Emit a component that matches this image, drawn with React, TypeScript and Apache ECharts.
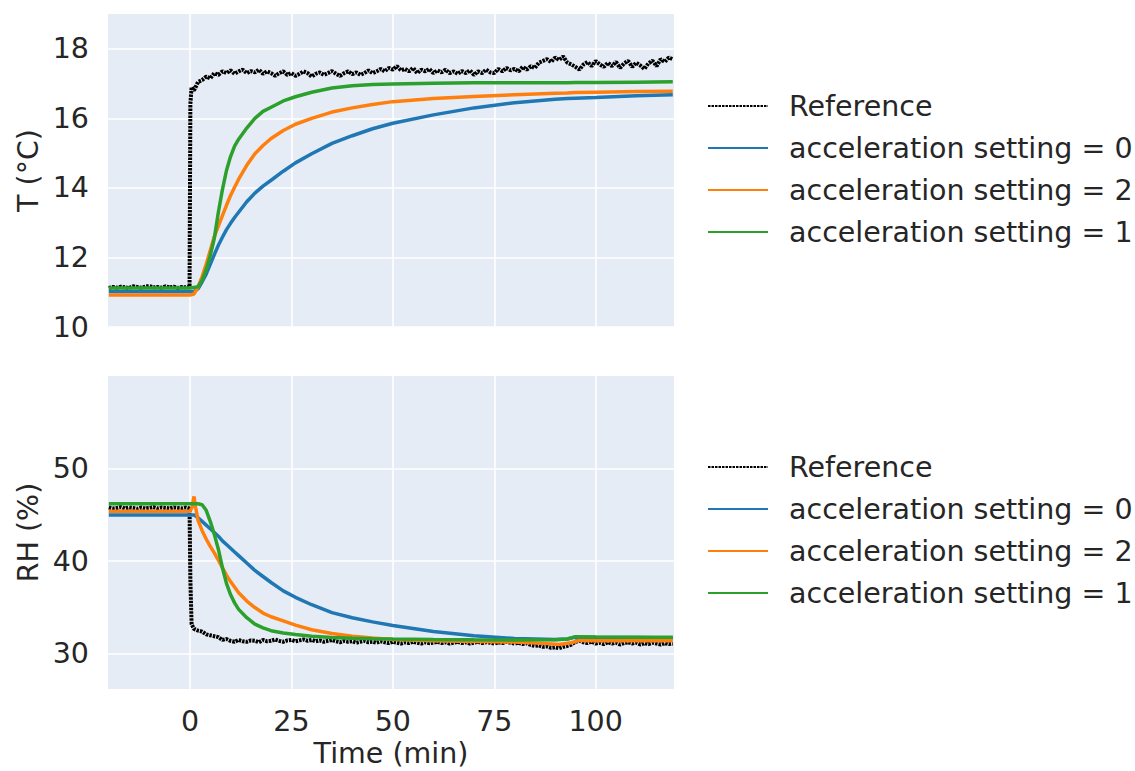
import React, { useEffect, useRef } from "react";
import * as echarts from "echarts";

// ---------- data ----------
const X_TICKS = [0, 25, 50, 75, 100];
const T_TICKS = [10, 12, 14, 16, 18];
const RH_TICKS = [30, 40, 50];

const SERIES_NAMES = [
  "Reference",
  "acceleration setting = 0",
  "acceleration setting = 2",
  "acceleration setting = 1",
];

// time (min) of the reference measurement
const tRef = [
  -20, -19, -18, -17, -16, -15, -14, -13, -12, -11,
  -10, -9, -8, -7, -6, -5, -4, -3, -2, -1,
  -0.1, 0.1, 0.4,
  1, 2, 3, 4, 5, 6, 7, 8, 9, 10,
  11, 12, 13, 14, 15, 16, 17, 18, 19, 20,
  21, 22, 23, 24, 25, 26, 27, 28, 29, 30,
  31, 32, 33, 34, 35, 36, 37, 38, 39, 40,
  41, 42, 43, 44, 45, 46, 47, 48, 49, 50,
  51, 52, 53, 54, 55, 56, 57, 58, 59, 60,
  61, 62, 63, 64, 65, 66, 67, 68, 69, 70,
  71, 72, 73, 74, 75, 76, 77, 78, 79, 80,
  81, 82, 83, 84, 85, 86, 87, 88, 89, 90,
  91, 92, 93, 94, 95, 96, 97, 98, 99, 100,
  101, 102, 103, 104, 105, 106, 107, 108, 109, 110,
  111, 112, 113, 114, 115, 116, 117, 118, 119,
];

const refT = [
  11.12, 11.15, 11.13, 11.16, 11.14, 11.12, 11.17, 11.15, 11.13, 11.16,
  11.18, 11.14, 11.15, 11.13, 11.17, 11.14, 11.16, 11.12, 11.15, 11.14,
  11.15, 16.4, 16.9,
  16.8, 17.05, 17.1, 17.2, 17.15, 17.3, 17.25, 17.35, 17.3, 17.38,
  17.28, 17.35, 17.4, 17.3, 17.36, 17.32, 17.4, 17.28, 17.35, 17.3,
  17.22, 17.3, 17.35, 17.25, 17.3, 17.22, 17.28, 17.35, 17.3, 17.2,
  17.28, 17.32, 17.25, 17.3, 17.36, 17.28, 17.22, 17.3, 17.35, 17.27,
  17.32, 17.25, 17.3, 17.38, 17.3, 17.35, 17.42, 17.35, 17.45, 17.4,
  17.5, 17.38, 17.42, 17.35, 17.45, 17.3, 17.4, 17.35, 17.42, 17.3,
  17.38, 17.32, 17.4, 17.3, 17.35, 17.28, 17.36, 17.3, 17.38, 17.25,
  17.35, 17.3, 17.4, 17.32, 17.3, 17.42, 17.35, 17.45, 17.38, 17.42,
  17.35, 17.48, 17.4, 17.5, 17.45, 17.6, 17.65, 17.7, 17.62, 17.75,
  17.68, 17.78, 17.6, 17.55, 17.48, 17.4, 17.55, 17.62, 17.5, 17.65,
  17.55, 17.48, 17.6, 17.5, 17.62, 17.45, 17.58, 17.65, 17.48, 17.6,
  17.52, 17.42, 17.58, 17.66, 17.5, 17.7, 17.62, 17.75, 17.7,
];

const refRH = [
  45.8, 45.7, 45.75, 45.85, 45.7, 45.8, 45.75, 45.65, 45.8, 45.7,
  45.75, 45.85, 45.7, 45.8, 45.75, 45.7, 45.8, 45.75, 45.7, 45.8,
  45.7, 38.0, 33.2,
  32.7, 32.5, 32.4, 32.1, 32.0, 31.9, 31.8, 31.5, 31.6, 31.4,
  31.3, 31.5, 31.35, 31.3, 31.45, 31.4, 31.25, 31.5, 31.35, 31.4,
  31.55, 31.4, 31.3, 31.45, 31.5, 31.35, 31.45, 31.55, 31.4, 31.5,
  31.35, 31.45, 31.3, 31.4, 31.5, 31.35, 31.25, 31.4, 31.3, 31.35,
  31.2, 31.3, 31.4, 31.25, 31.3, 31.2, 31.35, 31.25, 31.15, 31.3,
  31.2, 31.1, 31.25, 31.15, 31.3, 31.2, 31.1, 31.25, 31.15, 31.2,
  31.3, 31.15, 31.25, 31.1, 31.2, 31.3, 31.15, 31.25, 31.1, 31.2,
  31.3, 31.15, 31.25, 31.2, 31.1, 31.25, 31.15, 31.3, 31.2, 31.1,
  31.2, 31.05, 31.15, 30.95, 30.85, 30.9, 30.75, 30.8, 30.65, 30.7,
  30.6, 30.75, 30.85, 31.0, 31.3, 31.4, 31.25, 31.15, 31.3, 31.1,
  31.2, 31.05, 31.25, 31.1, 31.2, 31.0, 31.15, 31.25, 31.1, 31.2,
  31.0, 31.15, 31.05, 31.2, 31.1, 31.0, 31.15, 31.05, 31.1,
];

// time (min) of the simulated curves
const tSim = [
  -20, -10, 0, 1, 2, 3, 4, 5, 6, 7, 8, 9, 10, 11, 12, 14, 16, 18, 20, 23,
  26, 30, 35, 40, 45, 50, 60, 70, 80, 90, 93, 95, 100, 110, 119,
];

const accel0T = [
  11.02, 11.02, 11.02, 11.03, 11.1, 11.3, 11.52, 11.8, 12.08, 12.35,
  12.58, 12.8, 12.98, 13.15, 13.3, 13.6, 13.85, 14.05, 14.22, 14.48,
  14.72, 14.98, 15.28, 15.5, 15.7, 15.86, 16.1, 16.3, 16.45, 16.55,
  16.57, 16.58, 16.6, 16.65, 16.68,
];
const accel2T = [
  10.92, 10.92, 10.92, 10.95, 11.15, 11.45, 11.8, 12.2, 12.6, 12.9,
  13.2, 13.5, 13.78, 14.02, 14.25, 14.65, 14.98, 15.22, 15.42, 15.65,
  15.83, 16.0, 16.18, 16.3, 16.4, 16.48, 16.57, 16.63, 16.68, 16.72,
  16.73, 16.74, 16.75, 16.77, 16.78,
];
const accel1T = [
  11.12, 11.12, 11.12, 11.14, 11.16, 11.35, 11.65, 12.05, 12.55, 13.3,
  13.95, 14.5, 14.9, 15.2, 15.4, 15.72, 16.0, 16.2, 16.32, 16.5,
  16.62, 16.75, 16.87, 16.94, 16.97, 16.99, 17.01, 17.02, 17.02, 17.02,
  17.02, 17.03, 17.03, 17.04, 17.05,
];

const accel0RH = [
  45.0, 45.0, 45.0, 45.0, 44.7, 44.3, 43.9, 43.5, 43.1, 42.7,
  42.2, 41.8, 41.4, 41.0, 40.6, 39.8, 39.0, 38.35, 37.7, 36.8,
  36.1, 35.3, 34.45, 33.9, 33.45, 33.05, 32.4, 31.95, 31.65, 31.55,
  31.6, 31.8, 31.78, 31.75, 31.72,
];
const accel1RH = [
  46.2, 46.2, 46.2, 46.2, 46.2, 46.1, 45.5, 44.3, 42.9, 41.3,
  39.3, 37.6, 36.4, 35.5, 34.8, 33.9, 33.2, 32.8, 32.5, 32.25,
  32.08, 31.9, 31.75, 31.68, 31.63, 31.6, 31.55, 31.52, 31.5, 31.52,
  31.6, 31.85, 31.82, 31.8, 31.78,
];
const tAccel2RH = [
  -20, -10, 0, 0.5, 1, 1.4, 2, 3, 4, 5, 6, 7, 8, 9, 10, 12, 14, 16, 18, 20,
  23, 26, 30, 35, 40, 45, 50, 60, 70, 80, 88, 91, 94, 96, 100, 110, 119,
];
const accel2RH = [
  45.4, 45.4, 45.4, 45.8, 47.0, 45.8, 44.4, 43.3, 42.4, 41.6,
  40.9, 40.1, 39.3, 38.5, 37.8, 36.6, 35.7, 35.0, 34.4, 34.0,
  33.55, 33.1, 32.6, 32.2, 31.9, 31.7, 31.55, 31.4, 31.32, 31.28,
  31.1, 31.0, 31.2, 31.45, 31.42, 31.4, 31.4,
];

const COLORS = ["#000000", "#1f77b4", "#ff7f0e", "#2ca02c"];

const zip = (t: number[], v: number[]) => t.map((x, i) => [x, v[i]]);

export default function App() {
  const ref = useRef<HTMLDivElement>(null);

  useEffect(() => {
    if (!ref.current) return;
    const chart = echarts.init(ref.current, null, { renderer: "svg" });
    const fontFamily = "DejaVu Sans";
    const textColor = "#262626";
    const fontSize = 28.5;
    const gridBg = "#e6ecf5";

    const xAxis = (gridIndex: number, showLabel: boolean) => ({
      type: "value",
      gridIndex,
      min: -20.2,
      max: 119.3,
      axisLine: { show: false },
      axisTick: { show: false, customValues: X_TICKS },
      axisLabel: {
        show: showLabel,
        customValues: X_TICKS,
        fontFamily,
        fontSize,
        color: textColor,
        margin: 18,
      },
      splitLine: { show: true, lineStyle: { color: "#ffffff", width: 1.6 } },
      name: showLabel ? "Time (min)" : "",
      nameLocation: "middle",
      nameGap: 50,
      nameTextStyle: { fontFamily, fontSize, color: textColor },
    });

    const yAxis = (
      gridIndex: number,
      min: number,
      max: number,
      ticks: number[],
      name: string
    ) => ({
      type: "value",
      gridIndex,
      min,
      max,
      axisLine: { show: false },
      axisTick: { show: false, customValues: ticks },
      axisLabel: {
        customValues: ticks,
        fontFamily,
        fontSize,
        color: textColor,
        margin: 19,
      },
      splitLine: { show: true, lineStyle: { color: "#ffffff", width: 1.6 } },
      name,
      nameLocation: "middle",
      nameGap: 65,
      nameTextStyle: { fontFamily, fontSize, color: textColor },
    });

    const line = (
      idx: number,
      axis: number,
      data: number[][],
      isRef: boolean
    ) => ({
      type: "line",
      name: SERIES_NAMES[idx],
      xAxisIndex: axis,
      yAxisIndex: axis,
      data,
      showSymbol: false,
      symbol: "none",
      color: COLORS[idx],
      lineStyle: isRef
        ? { color: COLORS[idx], width: 4, type: [2.5, 1] }
        : { color: COLORS[idx], width: 3.5 },
      emphasis: { disabled: true },
      z: 2 + idx,
    });

    const legend = (top: number) => ({
      top,
      left: 707,
      padding: 0,
      orient: "vertical",
      itemWidth: 60,
      itemHeight: 14,
      itemGap: 12,
      selectedMode: false,
      itemStyle: { opacity: 0 },
      data: SERIES_NAMES,
      textStyle: {
        fontFamily,
        fontSize,
        color: textColor,
        lineHeight: 30,
        padding: [0, 0, 0, 16],
      },
    });

    const grid = (top: number) => ({
      left: 108,
      top,
      width: 566,
      height: 313,
      show: true,
      backgroundColor: gridBg,
      borderWidth: 0,
      containLabel: false,
      outerBoundsMode: "none",
    });

    chart.setOption({
      animation: false,
      backgroundColor: "#ffffff",
      textStyle: { fontFamily },
      grid: [grid(14), grid(376)],
      xAxis: [xAxis(0, false), xAxis(1, true)],
      yAxis: [
        yAxis(0, 10, 19, T_TICKS, "T (°C)"),
        yAxis(1, 26.2, 60, RH_TICKS, "RH (%)"),
      ],
      legend: [legend(91), legend(452)],
      series: [
        line(0, 0, zip(tRef, refT), true),
        line(1, 0, zip(tSim, accel0T), false),
        line(2, 0, zip(tSim, accel2T), false),
        line(3, 0, zip(tSim, accel1T), false),
        line(0, 1, zip(tRef, refRH), true),
        line(1, 1, zip(tSim, accel0RH), false),
        line(2, 1, zip(tAccel2RH, accel2RH), false),
        line(3, 1, zip(tSim, accel1RH), false),
      ],
    });

    return () => chart.dispose();
  }, []);

  return (
    <div
      ref={ref}
      style={{
        position: "absolute",
        left: 0,
        top: 0,
        width: 1135,
        height: 771,
      }}
    />
  );
}
